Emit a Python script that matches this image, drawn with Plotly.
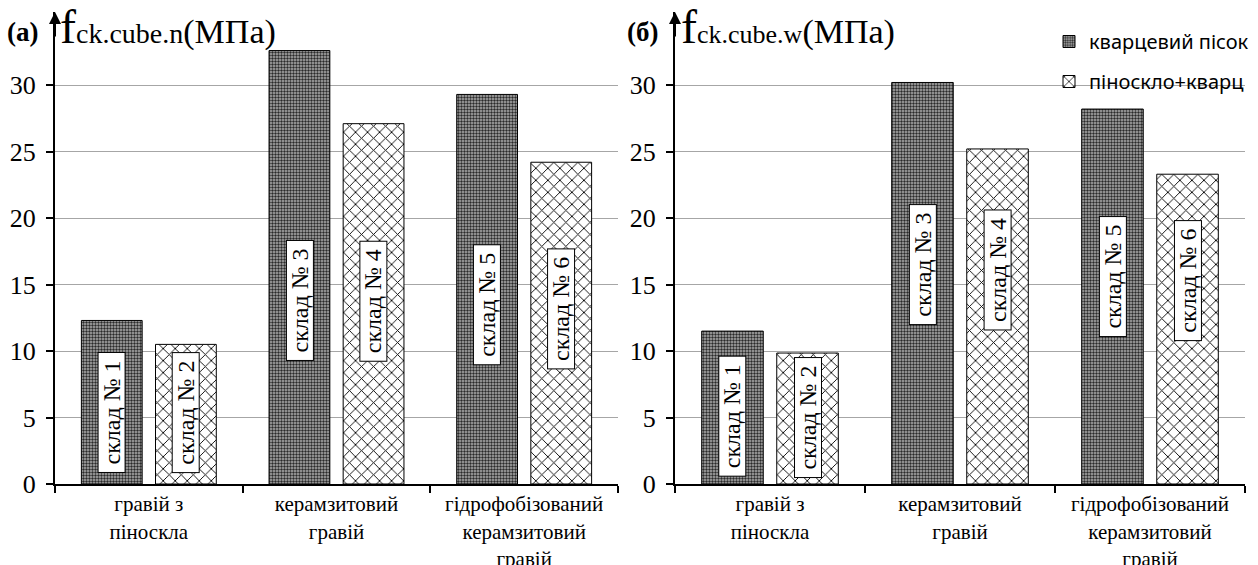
import plotly.graph_objects as go

# ---- data ----
categories = ["гравій з<br>піноскла", "керамзитовий<br>гравій", "гідрофобізований<br>керамзитовий<br>гравій"]
series_names = ["кварцевий пісок", "піноскло+кварц"]
# panel (а): f_ck.cube.n, MPa
a_quartz = [12.3, 32.6, 29.3]
a_foam = [10.5, 27.1, 24.2]
# panel (б): f_ck.cube.w, MPa
b_quartz = [11.5, 30.2, 28.2]
b_foam = [9.85, 25.2, 23.3]
# composition labels and where their boxes sit (MPa)
labels_q = ["склад № 1", "склад № 3", "склад № 5"]
labels_f = ["склад № 2", "склад № 4", "склад № 6"]
a_label_y_q = [5.4, 13.8, 13.45]
a_label_y_f = [5.4, 13.75, 13.15]
b_label_y_q = [5.1, 16.5, 15.6]
b_label_y_f = [5.0, 16.1, 15.3]
y_ticks = [0, 5, 10, 15, 20, 25, 30]

W, H = 1258, 565
SERIF = "Liberation Serif"
SANS = "Noto Sans"
BARGAP = 0.21
BARGROUPGAP = 0.18

pat_q = dict(shape=".", bgcolor="#b0b0b0", fgcolor="#2a2a2a", size=3, solidity=0.5, fillmode="replace")
pat_f = dict(shape="x", bgcolor="white", fgcolor="black", size=8.5, solidity=0.2, fillmode="replace")

fig = go.Figure()

def add_panel(q, f, xa, ya, show):
    fig.add_trace(go.Bar(x=categories, y=q, name=series_names[0], xaxis=xa, yaxis=ya,
                         marker=dict(color="#b0b0b0", pattern=pat_q, line=dict(color="black", width=1)),
                         showlegend=show, legend="legend"))
    fig.add_trace(go.Bar(x=categories, y=f, name=series_names[1], xaxis=xa, yaxis=ya,
                         marker=dict(color="white", pattern=pat_f, line=dict(color="black", width=1)),
                         showlegend=show, legend="legend2"))

add_panel(a_quartz, a_foam, "x", "y", False)
add_panel(b_quartz, b_foam, "x2", "y2", True)

off = (1 - BARGAP) / 4.0

def add_labels(yq, yf, xr, yr):
    for i in range(len(categories)):
        for txt, yy, dx in ((labels_q[i], yq[i], -off), (labels_f[i], yf[i], off)):
            fig.add_annotation(x=i + dx, y=yy, xref=xr, yref=yr, text=txt, showarrow=False,
                               textangle=-90, font=dict(family=SERIF, size=24, color="black"),
                               bgcolor="white", bordercolor="black", borderwidth=1, borderpad=0,
                               width=119, height=26)

add_labels(a_label_y_q, a_label_y_f, "x", "y")
add_labels(b_label_y_q, b_label_y_f, "x2", "y2")

y_top = 35.5
ydom = [81 / H, (H - 12) / H]

xcommon = dict(showline=True, linecolor="black", linewidth=2, ticks="outside", ticklen=7,
               tickwidth=1.5, tickcolor="black", tickson="boundaries", automargin=False,
               tickfont=dict(family=SERIF, size=21, color="black"), showgrid=False)
ycommon = dict(range=[0, y_top], domain=ydom, tickvals=y_ticks, showline=True, linecolor="black",
               linewidth=2, ticks="outside", ticklen=7, tickwidth=1.5, tickcolor="black",
               showgrid=True, gridcolor="#a6a6a6", gridwidth=1, zeroline=False, automargin=False,
               ticklabelstandoff=5, tickfont=dict(family=SERIF, size=26, color="black"))

fig.update_layout(
    width=W, height=H, margin=dict(l=0, r=0, t=0, b=0, autoexpand=False),
    paper_bgcolor="white", plot_bgcolor="white",
    barmode="group", bargap=BARGAP, bargroupgap=BARGROUPGAP,
    xaxis=dict(domain=[55 / W, 618 / W], anchor="y", **xcommon),
    yaxis=dict(anchor="x", **ycommon),
    xaxis2=dict(domain=[675 / W, 1245 / W], anchor="y2", **xcommon),
    yaxis2=dict(anchor="x2", **ycommon),
    legend=dict(x=1049 / W, y=1 - 22 / H, xanchor="left", yanchor="top",
                font=dict(family=SANS, size=20, color="black"), bgcolor="rgba(0,0,0,0)",
                itemwidth=30),
    legend2=dict(x=1049 / W, y=1 - 62 / H, xanchor="left", yanchor="top",
                 font=dict(family=SANS, size=20, color="black"), bgcolor="rgba(0,0,0,0)",
                 itemwidth=30),
)

# y-axis arrows
for xr, yr in (("x domain", "y domain"), ("x2 domain", "y2 domain")):
    fig.add_annotation(x=0, y=1, xref=xr, yref=yr, ax=0, ay=26, axref="pixel", ayref="pixel",
                       text="", showarrow=True, arrowhead=2, arrowsize=1.2, arrowwidth=2,
                       arrowcolor="black", standoff=0)

# panel letters
for xpx, letter in ((5, "(а)"), (625, "(б)")):
    fig.add_annotation(x=xpx / W, y=1 - 32 / H, xref="paper", yref="paper", xanchor="left",
                       yanchor="middle", showarrow=False, text="<b>" + letter + "</b>",
                       font=dict(family=SERIF, size=27, color="black"))

# axis titles
for xpx, sub, subsize in ((58, "ck.cube.n", 28), (679, "ck.cube.w", 26)):
    fig.add_annotation(x=xpx / W, y=1 - 27 / H, xref="paper", yref="paper", xanchor="left",
                       yanchor="middle", showarrow=False,
                       text='<span style="font-size:48px">f</span><span style="font-size:%dpx">%s</span>'
                            '<span style="font-size:34px">(МПа)</span>' % (subsize, sub),
                       font=dict(family=SERIF, size=30, color="black"))

fig.write_html("out.html", post_script="document.body.style.margin='0px';",
               config={"displayModeBar": False})
